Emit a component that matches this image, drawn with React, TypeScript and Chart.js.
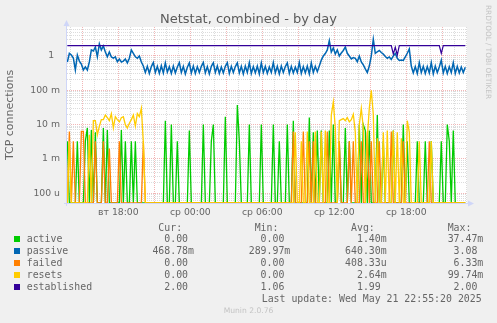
import React, { useEffect, useRef } from "react";
import { Chart, registerables } from "chart.js";

Chart.register(...registerables);

const FONT = "'DejaVu Sans', sans-serif";
const MONO = "'DejaVu Sans Mono', monospace";
const TEXT = "#666666";
const AXIS = "#CFD6F8";
const MAJOR_GRID = "rgba(225, 80, 80, 0.42)";
const MINOR_GRID = "rgba(130, 130, 130, 0.28)";

// time axis: hours counted from вт 00:00, one sample every 10 minutes
const START_HOUR = 13.75;
const STEP_HOUR = 10 / 60;
const X_MIN = 13.72;
const X_MAX = 47.06;
const Y_MIN = 5.2e-5;
const Y_MAX = 7;

const xLabelHours = [18, 24, 30, 36, 42];
const xLabels = ["вт 18:00", "ср 00:00", "ср 06:00", "ср 12:00", "ср 18:00"];
const yLabelValues = [1e-4, 1e-3, 1e-2, 1e-1, 1];
const yLabels = ["100 u", "1 m", "10 m", "100 m", "1  "];

const seriesNames = ["active", "passive", "failed", "resets", "established"];
const seriesColors = ["#00CC00", "#0066B3", "#FF8000", "#FFCC00", "#330099"];
const curValues = ["0.00 ", "468.78m", "0.00 ", "0.00 ", "2.00 "];
const minValues = ["0.00 ", "289.97m", "0.00 ", "0.00 ", "1.06 "];
const avgValues = ["1.40m", "640.30m", "408.33u", "2.64m", "1.99 "];
const maxValues = ["37.47m", "3.08 ", "6.33m", "99.74m", "2.00 "];

const active = [
  0.0033, 0, 0, 0, 0, 0.0033, 0, 0, 0, 0.0033, 0.008, 0, 0.007, 0, 0.006, 0, 0, 0, 0.008, 0,
  0.007, 0, 0, 0, 0, 0, 0, 0.007, 0, 0.0033, 0, 0, 0.0033, 0, 0.0033, 0, 0, 0, 0, 0,
  0, 0, 0, 0, 0, 0, 0, 0, 0, 0.013, 0, 0, 0.01, 0, 0, 0.0033, 0, 0, 0, 0,
  0, 0.0067, 0, 0, 0, 0, 0, 0, 0.01, 0, 0, 0, 0.0033, 0.01, 0, 0, 0, 0, 0, 0.017,
  0, 0, 0, 0, 0, 0.0375, 0.0033, 0, 0, 0, 0, 0.01, 0, 0, 0, 0, 0, 0.01, 0, 0,
  0, 0, 0, 0.01, 0, 0, 0.0033, 0, 0, 0, 0.01, 0, 0, 0.013, 0, 0, 0, 0, 0, 0,
  0, 0.016, 0, 0.006, 0, 0.0067, 0, 0.0067, 0, 0, 0, 0.0067, 0, 0.01, 0, 0, 0.0033, 0, 0, 0.008,
  0, 0.0033, 0, 0, 0, 0, 0.01, 0, 0.01, 0.0067, 0, 0.0067, 0, 0, 0, 0.019, 0, 0, 0.0033, 0,
  0, 0, 0, 0.0067, 0, 0, 0, 0, 0.01, 0, 0.0033, 0, 0, 0, 0, 0.0033, 0, 0, 0, 0.0033,
  0, 0, 0.0033, 0, 0, 0, 0, 0.0033, 0, 0, 0.01, 0.0033, 0, 0.0067, 0, 0, 0, 0, 0, 0,
];

const passive = [
  0.67, 1.2, 1.07, 0.87, 0.39, 1.07, 0.71, 0.58, 0.39, 0.48, 0.39, 0.67, 1.5, 1.4, 1.83, 0.95, 2.24, 1.5, 1.96, 1.31,
  0.95, 1.31, 0.94, 0.87, 0.94, 0.68, 0.82, 0.67, 0.71, 0.82, 0.63, 0.86, 1.5, 1.2, 0.95, 0.86, 1.0, 0.67, 0.51, 0.33,
  0.5, 0.31, 0.49, 0.64, 0.33, 0.5, 0.31, 0.52, 0.32, 0.63, 0.34, 0.49, 0.31, 0.51, 0.32, 0.48, 0.64, 0.33, 0.5, 0.3,
  0.47, 0.63, 0.32, 0.51, 0.31, 0.49, 0.33, 0.5, 0.65, 0.32, 0.49, 0.3, 0.5, 0.63, 0.33, 0.51, 0.31, 0.48, 0.32, 0.5,
  0.64, 0.31, 0.5, 0.33, 0.49, 0.63, 0.32, 0.5, 0.3, 0.51, 0.33, 0.64, 0.31, 0.49, 0.32, 0.51, 0.3, 0.63, 0.33, 0.5,
  0.31, 0.48, 0.33, 0.64, 0.32, 0.5, 0.3, 0.51, 0.33, 0.49, 0.63, 0.31, 0.5, 0.32, 0.48, 0.33, 0.65, 0.31, 0.49, 0.32,
  0.51, 0.3, 0.63, 0.33, 0.5, 0.35, 0.51, 0.76, 1.0, 1.18, 1.5, 2.8, 1.3, 1.71, 1.14, 1.5, 1.0, 1.22, 1.45, 1.83,
  1.2, 1.0, 0.82, 0.9, 0.85, 0.68, 1.0, 0.67, 0.55, 0.42, 0.33, 0.51, 1.0, 3.08, 1.2, 1.33, 1.45, 1.26, 1.14, 0.97,
  0.86, 0.94, 0.79, 1.0, 1.18, 0.86, 0.74, 0.76, 0.74, 0.94, 1.2, 1.6, 0.51, 0.32, 0.49, 0.31, 0.64, 0.33, 0.5, 0.31,
  0.49, 0.32, 0.64, 0.3, 0.51, 0.33, 0.48, 0.76, 0.32, 0.5, 0.31, 0.49, 0.33, 0.64, 0.31, 0.5, 0.32, 0.48, 0.33, 0.47,
];

const failed = [
  0, 0.0063, 0, 0.0033, 0, 0, 0, 0.0063, 0.0063, 0, 0, 0, 0, 0, 0.0033, 0, 0, 0, 0.0033, 0,
  0, 0.002, 0, 0, 0, 0, 0.0033, 0, 0, 0, 0, 0, 0, 0, 0, 0, 0, 0, 0.0033, 0,
  0, 0, 0, 0, 0, 0, 0, 0, 0, 0, 0, 0, 0, 0, 0, 0, 0, 0, 0, 0,
  0, 0, 0, 0, 0, 0, 0, 0, 0, 0, 0, 0, 0, 0, 0, 0, 0, 0, 0, 0,
  0, 0, 0, 0, 0, 0, 0, 0, 0, 0, 0, 0, 0, 0, 0, 0, 0, 0, 0, 0,
  0, 0, 0, 0, 0, 0, 0, 0, 0, 0, 0, 0, 0, 0.0063, 0, 0, 0, 0, 0.0063, 0,
  0, 0.0033, 0, 0.0033, 0, 0, 0, 0, 0, 0, 0.0063, 0, 0, 0, 0, 0, 0.0033, 0, 0, 0,
  0, 0.0033, 0, 0.0033, 0, 0, 0, 0.0033, 0, 0, 0.0063, 0, 0.0033, 0, 0, 0, 0.0033, 0, 0, 0,
  0, 0, 0.0063, 0, 0, 0, 0, 0, 0.0033, 0, 0, 0, 0, 0, 0, 0, 0, 0, 0, 0,
  0, 0.0033, 0, 0, 0, 0, 0, 0, 0, 0, 0, 0, 0, 0, 0, 0, 0, 0, 0, 0,
];

const resets = [
  0, 0.0033, 0, 0, 0, 0, 0, 0, 0, 0, 0, 0.005, 0, 0.013, 0.013, 0.005, 0.009, 0.014, 0.014, 0.019,
  0.016, 0.013, 0.021, 0.008, 0.017, 0.014, 0.012, 0.016, 0.017, 0.01, 0.008, 0.011, 0.014, 0.019, 0.009, 0.021, 0.017, 0.03, 0.003, 0,
  0, 0, 0, 0, 0, 0, 0, 0, 0, 0, 0, 0, 0, 0, 0, 0, 0, 0, 0, 0,
  0, 0, 0, 0, 0, 0, 0, 0, 0, 0, 0, 0, 0, 0, 0, 0, 0, 0, 0, 0,
  0, 0, 0, 0, 0, 0, 0, 0, 0, 0, 0, 0, 0, 0, 0, 0, 0, 0, 0, 0,
  0, 0, 0, 0, 0, 0, 0, 0, 0, 0, 0, 0, 0, 0, 0.006, 0, 0, 0.0033, 0, 0,
  0.0063, 0, 0, 0, 0.0063, 0, 0, 0.0063, 0, 0.0067, 0, 0, 0.019, 0.046, 0.008, 0, 0.013, 0.014, 0.015, 0.013,
  0.016, 0.012, 0.014, 0.02, 0.006, 0, 0.01, 0.03, 0.008, 0, 0.004, 0.03, 0.0997, 0.02, 0, 0.004, 0, 0, 0.006, 0,
  0.0067, 0, 0, 0.0067, 0, 0.006, 0, 0.004, 0, 0, 0.013, 0.006, 0, 0, 0, 0, 0.0033, 0, 0, 0,
  0, 0, 0.0033, 0, 0, 0, 0, 0, 0, 0, 0, 0, 0, 0, 0, 0, 0, 0, 0, 0,
];

const established = [
  2, 2, 2, 2, 2, 2, 2, 2, 2, 2, 2, 2, 2, 2, 2, 2, 2, 2, 2, 2,
  2, 2, 2, 2, 2, 2, 2, 2, 2, 2, 2, 2, 2, 2, 2, 2, 2, 2, 2, 2,
  2, 2, 2, 2, 2, 2, 2, 2, 2, 2, 2, 2, 2, 2, 2, 2, 2, 2, 2, 2,
  2, 2, 2, 2, 2, 2, 2, 2, 2, 2, 2, 2, 2, 2, 2, 2, 2, 2, 2, 2,
  2, 2, 2, 2, 2, 2, 2, 2, 2, 2, 2, 2, 2, 2, 2, 2, 2, 2, 2, 2,
  2, 2, 2, 2, 2, 2, 2, 2, 2, 2, 2, 2, 2, 2, 2, 2, 2, 2, 2, 2,
  2, 2, 2, 2, 2, 2, 2, 2, 2, 2, 2, 2, 2, 2, 2, 2, 2, 2, 2, 2,
  2, 2, 2, 2, 2, 2, 2, 2, 2, 2, 2, 2, 2, 2, 2, 2, 2, 2, 2, 2,
  2, 2, 2, 1.15, 1.8, 1.06, 2, 2, 2, 2, 2, 2, 2, 2, 2, 2, 2, 2, 2, 2,
  2, 2, 2, 2, 2, 2, 2, 1.2, 2, 2, 2, 2, 2, 2, 2, 2, 2, 2, 2, 2,
];

const seriesValues = [active, passive, failed, resets, established];
const seriesWidths = [1.3, 1.5, 1.3, 1.3, 1.2];

const muninPlugin = {
  id: "muninFrame",
  beforeDraw(chart: any) {
    const { ctx, chartArea: a } = chart;
    ctx.save();
    ctx.fillStyle = "#FFFFFF";
    ctx.fillRect(a.left, a.top, a.right - a.left, a.bottom - a.top);
    ctx.restore();
  },
  beforeDatasetsDraw(chart: any) {
    const { ctx, chartArea: a } = chart;
    ctx.save();
    ctx.strokeStyle = AXIS;
    ctx.fillStyle = AXIS;
    ctx.lineWidth = 1;
    ctx.beginPath();
    ctx.moveTo(a.left - 0.5, a.bottom + 3);
    ctx.lineTo(a.left - 0.5, a.top - 2);
    ctx.moveTo(a.left - 3, a.bottom + 0.5);
    ctx.lineTo(a.right + 2, a.bottom + 0.5);
    ctx.stroke();
    ctx.beginPath();
    ctx.moveTo(a.left - 3.5, a.top - 1);
    ctx.lineTo(a.left + 2.5, a.top - 1);
    ctx.lineTo(a.left - 0.5, a.top - 7);
    ctx.closePath();
    ctx.fill();
    ctx.beginPath();
    ctx.moveTo(a.right + 1, a.bottom - 2.5);
    ctx.lineTo(a.right + 1, a.bottom + 3.5);
    ctx.lineTo(a.right + 7, a.bottom + 0.5);
    ctx.closePath();
    ctx.fill();
    ctx.restore();
  },
};

function ChartCanvas() {
  const ref = useRef<HTMLCanvasElement | null>(null);
  useEffect(() => {
    if (!ref.current) return;
    const datasets = seriesNames.map((name, s) => ({
      label: name,
      data: seriesValues[s].map((v, i) => ({ x: START_HOUR + i * STEP_HOUR, y: v > 0 ? v : Y_MIN })),
      borderColor: seriesColors[s],
      borderWidth: seriesWidths[s],
      pointRadius: 0,
      fill: false,
      tension: 0,
      order: 5 - s,
    }));
    const chart = new Chart(ref.current, {
      type: "line",
      data: { datasets },
      options: {
        responsive: false,
        animation: false,
        devicePixelRatio: 1,
        layout: { padding: { top: 27, right: 30, bottom: 100, left: 0 } },
        plugins: { legend: { display: false }, tooltip: { enabled: false }, title: { display: false } },
        scales: {
          x: {
            type: "linear",
            min: X_MIN,
            max: X_MAX,
            afterFit: (s: any) => {
              s.height = 20;
            },
            afterBuildTicks: (s: any) => {
              const t: any[] = [];
              for (let h = Math.ceil(X_MIN); h <= Math.floor(X_MAX); h++) t.push({ value: h, major: h % 3 === 0 });
              s.ticks = t;
            },
            grid: {
              color: (c: any) => (c.tick && c.tick.major ? MAJOR_GRID : MINOR_GRID),
              lineWidth: 1,
              drawTicks: false,
            },
            border: { display: false, dash: [1, 1] },
            ticks: {
              autoSkip: false,
              maxRotation: 0,
              padding: 4,
              color: TEXT,
              font: { family: FONT, size: 9.3 },
              callback: (value: any) => {
                const k = xLabelHours.indexOf(Math.round(Number(value)));
                return k >= 0 && Math.abs(Number(value) - xLabelHours[k]) < 1e-6 ? xLabels[k] : "";
              },
            },
          },
          y: {
            type: "logarithmic",
            min: Y_MIN,
            max: Y_MAX,
            afterFit: (s: any) => {
              s.width = 67;
            },
            afterBuildTicks: (s: any) => {
              const t: any[] = [];
              for (let e = -5; e <= 0; e++) {
                for (let k = 1; k <= 9; k++) {
                  const v = k * Math.pow(10, e);
                  if (v > Y_MIN * 1.0001 && v < Y_MAX * 0.9999) t.push({ value: v, major: k === 1 });
                }
              }
              s.ticks = t;
            },
            grid: {
              color: (c: any) => (c.tick && c.tick.major ? MAJOR_GRID : MINOR_GRID),
              lineWidth: 1,
              drawTicks: false,
            },
            border: { display: false, dash: [1, 1] },
            title: {
              display: true,
              text: "TCP connections",
              color: TEXT,
              font: { family: FONT, size: 11 },
              padding: { top: 4, bottom: 0 },
            },
            ticks: {
              autoSkip: false,
              padding: 7,
              color: TEXT,
              font: { family: FONT, size: 9.3 },
              callback: (value: any) => {
                const v = Number(value);
                const k = yLabelValues.findIndex((u) => Math.abs(u - v) / u < 1e-6);
                return k >= 0 ? yLabels[k] : "";
              },
            },
          },
        },
      } as any,
      plugins: [muninPlugin],
    });
    return () => chart.destroy();
  }, []);
  return (
    <canvas
      ref={ref}
      width={497}
      height={323}
      style={{ position: "absolute", left: 0, top: 0, width: 497, height: 323 }}
    />
  );
}

const rowBaselines = [242.3, 254.2, 266.2, 278.2, 290.2];
const colRight = [194, 290.3, 386.7, 483.3];
const headers = ["Cur:  ", "Min:  ", "Avg:  ", "Max:  "];

export default function App() {
  const mono: React.CSSProperties = {
    position: "absolute",
    fontFamily: MONO,
    fontSize: 9.9,
    lineHeight: "12px",
    color: TEXT,
    whiteSpace: "pre",
  };
  const cols = [curValues, minValues, avgValues, maxValues];
  return (
    <div
      style={{
        position: "absolute",
        left: 0,
        top: 0,
        width: 497,
        height: 323,
        background: "#F0F0F0",
        overflow: "hidden",
      }}
    >
      <ChartCanvas />
      <div
        style={{
          position: "absolute",
          left: 0,
          top: 11,
          width: 497,
          textAlign: "center",
          fontFamily: FONT,
          fontSize: 13,
          lineHeight: "15px",
          color: "#5a5a5a",
          whiteSpace: "pre",
        }}
      >
        Netstat, combined - by day
      </div>
      <div
        style={{
          position: "absolute",
          left: 484.5,
          top: 5,
          writingMode: "vertical-rl",
          fontFamily: FONT,
          fontSize: 7.3,
          lineHeight: "7px",
          color: "#c4c4c4",
          whiteSpace: "pre",
        }}
      >
        RRDTOOL / TOBI OETIKER
      </div>
      {headers.map((h, c) => (
        <div key={"h" + c} style={{ ...mono, right: 497 - colRight[c], top: 231.7 - 9.4 }}>
          {h}
        </div>
      ))}
      {seriesNames.map((name, r) => (
        <React.Fragment key={name}>
          <div
            style={{
              position: "absolute",
              left: 14,
              top: rowBaselines[r] - 6,
              width: 6,
              height: 6,
              background: seriesColors[r],
            }}
          />
          <div style={{ ...mono, left: 26.7, top: rowBaselines[r] - 9.4 }}>{name}</div>
          {cols.map((col, c) => (
            <div key={c} style={{ ...mono, right: 497 - colRight[c], top: rowBaselines[r] - 9.4 }}>
              {col[r]}
            </div>
          ))}
        </React.Fragment>
      ))}
      <div style={{ ...mono, left: 261.7, top: 302.3 - 9.4 }}>Last update: Wed May 21 22:55:20 2025</div>
      <div
        style={{
          position: "absolute",
          left: 0,
          width: 497,
          top: 306,
          textAlign: "center",
          fontFamily: FONT,
          fontSize: 7.6,
          lineHeight: "10px",
          color: "#c4c4c4",
        }}
      >
        Munin 2.0.76
      </div>
    </div>
  );
}
